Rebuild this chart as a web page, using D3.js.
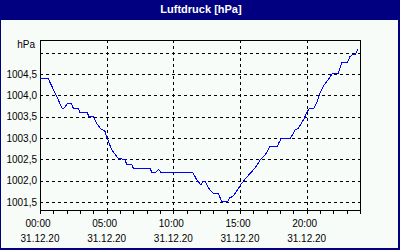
<!DOCTYPE html>
<html>
<head>
<meta charset="utf-8">
<script src="https://cdn.jsdelivr.net/npm/d3@7"></script>
<style>
  body { margin: 0; padding: 0; background: #fff; }
  svg { display: block; }
  text { font-family: "Liberation Sans", Arial, sans-serif; }
</style>
</head>
<body>
<script>
// readings, hours since 00:00 and pressure in hPa
var hours = [0, 0.6, 1.22, 1.65, 1.8, 2.05, 2.35, 2.5, 2.85, 3.0, 3.55, 3.65, 4.0, 4.3, 4.6, 4.85, 5.0, 5.35, 5.87,
  6.37, 6.5, 6.88, 7.0, 8.25, 8.38, 8.7, 8.9, 9.05, 11.45, 11.75, 12.08, 12.2, 12.38, 12.7, 13.0, 13.37, 13.63,
  14.08, 14.2, 14.5, 14.8, 15.13, 15.45, 15.75, 16.12, 16.5, 16.88, 17.25, 17.8, 17.95, 18.13, 18.8, 19.13, 19.37,
  19.75, 20.05, 20.2, 20.55, 20.75, 21.0, 21.3, 21.62, 21.95, 22.37, 22.63, 23.05, 23.25, 23.45, 23.63, 23.8, 23.85];
var pressure = [1004.40, 1004.40, 1004.00, 1003.70, 1003.70, 1003.80, 1003.80, 1003.70, 1003.70, 1003.60, 1003.60,
  1003.50, 1003.50, 1003.32, 1003.20, 1003.18, 1003.03, 1002.74, 1002.52, 1002.50, 1002.38, 1002.38, 1002.29,
  1002.29, 1002.20, 1002.20, 1002.27, 1002.20, 1002.20, 1002.02, 1001.90, 1001.98, 1001.98, 1001.80, 1001.70,
  1001.70, 1001.51, 1001.51, 1001.59, 1001.64, 1001.78, 1001.94, 1002.06, 1002.17, 1002.29, 1002.48, 1002.60,
  1002.80, 1002.80, 1002.91, 1003.00, 1003.00, 1003.19, 1003.23, 1003.42, 1003.62, 1003.70, 1003.70, 1003.83,
  1004.05, 1004.24, 1004.37, 1004.52, 1004.52, 1004.76, 1004.76, 1004.91, 1004.95, 1004.95, 1005.06, 1005.08];

var yTicks = [1001.5, 1002.0, 1002.5, 1003.0, 1003.5, 1004.0, 1004.5, 1005.0];
var yLabels = ["1001,5", "1002,0", "1002,5", "1003,0", "1003,5", "1004,0", "1004,5", ""];
var xTicks = [0, 5, 10, 15, 20];
var timeLabels = ["00:00", "05:00", "10:00", "15:00", "20:00"];
var dateLabel = "31.12.20";
var title = "Luftdruck [hPa]";
var unit = "hPa";

var W = 400, H = 250;
var svg = d3.select("body").append("svg")
  .attr("width", W)
  .attr("height", H);

// window background + title bar
svg.append("rect").attr("width", W).attr("height", H).attr("fill", "#000080");
svg.append("rect").attr("x", 1).attr("y", 20).attr("width", W - 3).attr("height", H - 22).attr("fill", "#f8fcf8");
svg.append("text")
  .attr("x", 201).attr("y", 13)
  .attr("text-anchor", "middle")
  .attr("fill", "#fff")
  .attr("font-weight", "bold")
  .attr("font-size", "11px")
  .text(title);

var x = d3.scaleLinear().domain([0, 24]).range([40, 360]);
var y = d3.scaleLinear().domain([1001.3125, 1005.297]).range([210, 40]);

var py = function(v) { return Math.round(y(v)) + 0.5; };
var px = function(v) { return Math.round(x(v)) + 0.5; };

// dashed grid
svg.append("g").selectAll("line")
  .data(yTicks).enter().append("line")
  .attr("x1", 40).attr("x2", 360)
  .attr("y1", py).attr("y2", py)
  .attr("stroke", "#000")
  .attr("stroke-dasharray", "3,3")
  .attr("shape-rendering", "crispEdges");

svg.append("g").selectAll("line")
  .data(xTicks.slice(1)).enter().append("line")
  .attr("x1", px).attr("x2", px)
  .attr("y1", 40).attr("y2", 210)
  .attr("stroke", "#000")
  .attr("stroke-dasharray", "3,3")
  .attr("shape-rendering", "crispEdges");

// frame
svg.append("rect")
  .attr("x", 40.5).attr("y", 40.5)
  .attr("width", 320).attr("height", 170)
  .attr("fill", "none")
  .attr("stroke", "#000")
  .attr("shape-rendering", "crispEdges");

// hourly ticks under the axis
var xAxis = d3.axisBottom(x)
  .tickValues(d3.range(0, 25))
  .tickSize(3)
  .tickSizeOuter(0)
  .tickFormat("");
var gx = svg.append("g").attr("transform", "translate(0,210.5)").call(xAxis);
gx.select(".domain").remove();
gx.selectAll("line").attr("shape-rendering", "crispEdges");

// line
var line = d3.line()
  .x(function(d, i) { return x(hours[i]); })
  .y(function(d) { return y(d); });

svg.append("path")
  .datum(pressure)
  .attr("d", line)
  .attr("fill", "none")
  .attr("stroke", "#0000ff")
  .attr("stroke-width", 1)
  .attr("shape-rendering", "crispEdges");

// y labels
svg.append("g").selectAll("text")
  .data(yTicks).enter().append("text")
  .attr("x", 37)
  .attr("y", function(d) { return y(d) + 3.5; })
  .attr("text-anchor", "end")
  .attr("font-size", "10px")
  .attr("fill", "#000")
  .text(function(d, i) { return yLabels[i]; });

svg.append("text")
  .attr("x", 35).attr("y", 47.5)
  .attr("text-anchor", "end")
  .attr("font-size", "10px")
  .text(unit);

// x labels
var lab = svg.append("g").selectAll("g")
  .data(xTicks).enter().append("g");
lab.append("text")
  .attr("x", function(d) { return x(d) - 2; })
  .attr("y", 227)
  .attr("text-anchor", "middle")
  .attr("font-size", "10px")
  .text(function(d, i) { return timeLabels[i]; });
lab.append("text")
  .attr("x", function(d) { return x(d); })
  .attr("y", 242)
  .attr("text-anchor", "middle")
  .attr("font-size", "10px")
  .text(dateLabel);
</script>
</body>
</html>
